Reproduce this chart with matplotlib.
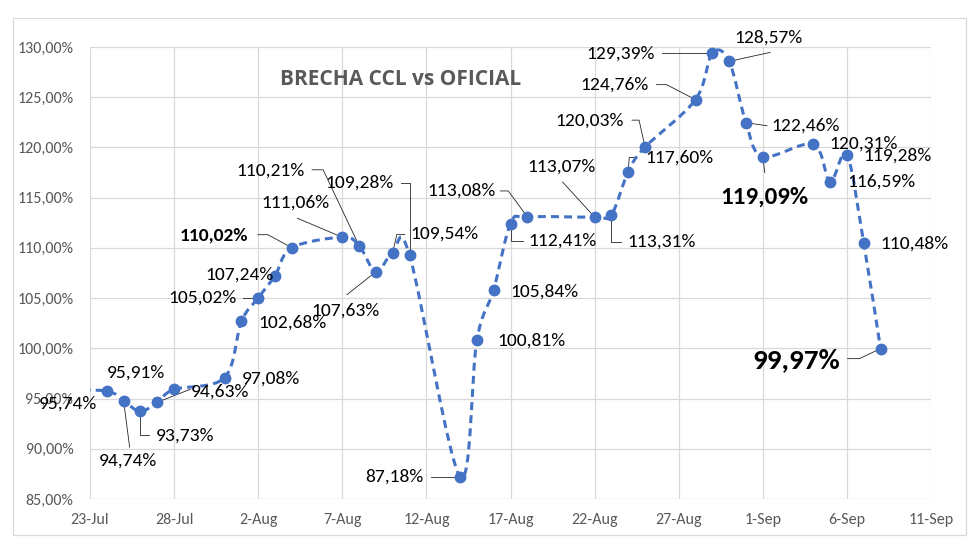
import datetime as dt
import matplotlib
matplotlib.use('Agg')
import matplotlib.pyplot as plt
import matplotlib.dates as mdates
from matplotlib.path import Path
from matplotlib.patches import PathPatch, Rectangle
from matplotlib.transforms import Affine2D

# datos: brecha CCL vs oficial (%)
fecha_previa = '2023-07-21'
brecha_previa = 95.90
fechas = ['2023-07-24', '2023-07-25', '2023-07-26', '2023-07-27', '2023-07-28',
          '2023-07-31', '2023-08-01', '2023-08-02', '2023-08-03', '2023-08-04',
          '2023-08-07', '2023-08-08', '2023-08-09', '2023-08-10', '2023-08-11',
          '2023-08-14', '2023-08-15', '2023-08-16', '2023-08-17', '2023-08-18',
          '2023-08-22', '2023-08-23', '2023-08-24', '2023-08-25',
          '2023-08-28', '2023-08-29', '2023-08-30', '2023-08-31', '2023-09-01',
          '2023-09-04', '2023-09-05', '2023-09-06', '2023-09-07', '2023-09-08']
brecha = [95.74, 94.74, 93.73, 94.63, 95.91,
          97.08, 102.68, 105.02, 107.24, 110.02,
          111.06, 110.21, 107.63, 109.54, 109.28,
          87.18, 100.81, 105.84, 112.41, 113.08,
          113.07, 113.31, 117.60, 120.03,
          124.76, 129.39, 128.57, 122.46, 119.09,
          120.31, 116.59, 119.28, 110.48, 99.97]
titulo = 'BRECHA CCL vs OFICIAL'

# etiquetas: desplazamiento (px, y hacia abajo) y guias
offsets = [(-39, 13), (4, 59), (45, 24), (63, -11), (-38, -17),
           (46, 1), (51, 1), (-56, 0), (-36, -1), (-78, -12),
           (-47, -35), (-89, -75), (-30, 39), (52, -19), (-50, -72),
           (-66, 0), (55, 0), (51, 2), (52, 17), (-66, -26),
           (-33, -50), (50, 27), (51, -14), (-56, -27),
           (-81, -15), (-92, 0), (39, -24), (60, 3), (2, 41),
           (50, -1), (51, 0), (51, 1), (51, 1), (-84, 11)]
guias = {1: [(6, 46), (0, 0)],
         2: [(9, 24), (0, 24), (0, 0)],
         3: [(33, -13), (0, 0)],
         7: [(-15, 0), (0, 0)],
         9: [(-34, -13), (-24, -13), (0, 0)],
         10: [(-45, -19), (0, 0)],
         11: [(-47, -76), (-36, -76), (0, 0)],
         12: [(-29, 23), (0, 0)],
         13: [(12, -18), (4, -18), (0, 0)],
         14: [(-9, -72), (0, -72), (0, 0)],
         15: [(-29, 0), (0, 0)],
         18: [(12, 17), (0, 17), (0, 0)],
         19: [(-27, -26), (-19, -26), (0, 0)],
         20: [(-32, -35), (0, 0)],
         21: [(10, 27), (0, 27), (0, 0)],
         22: [(7, -14), (1, -14), (0, 0)],
         23: [(-13, -27), (-6, -27), (0, 0)],
         24: [(-39, -15), (-29, -15), (0, 0)],
         25: [(-50, 0), (0, 0)],
         26: [(41, -9), (0, 0)],
         27: [(21, 3), (0, 0)],
         28: [(2, 16), (0, 0)],
         33: [(-33, 10), (-21, 10), (0, 0)]}
estilos = {9: ('bold', 14), 28: ('bold', 18), 33: ('bold', 21)}

fuente = ['Carlito', 'Lato', 'DejaVu Sans']
azul = '#4472C4'
gris = '#595959'

def a_fecha(s):
    return mdates.date2num(dt.datetime.strptime(s, '%Y-%m-%d'))

xs = [a_fecha(f) for f in fechas]
xall = [a_fecha(fecha_previa)] + xs
yall = [brecha_previa] + brecha

fig = plt.figure(figsize=(9.8, 5.49), dpi=100)
ax = fig.add_axes([90 / 980, 1 - 499 / 549, (931 - 90) / 980, (499 - 47) / 549])

ax.set_xlim(a_fecha('2023-07-23'), a_fecha('2023-09-11'))
ax.set_ylim(85, 130)
ax.set_xticks([a_fecha('2023-07-23') + 5 * i for i in range(11)])
ax.xaxis.set_major_formatter(mdates.DateFormatter('%-d-%b'))
ax.set_yticks(range(85, 131, 5))
ax.yaxis.set_major_formatter(matplotlib.ticker.FuncFormatter(
    lambda v, p: f'{v:.2f}'.replace('.', ',') + '%'))
ax.tick_params(length=0, labelcolor=gris, labelsize=11.5)
ax.tick_params(axis='y', pad=12)
ax.tick_params(axis='x', pad=10)
for lab in ax.get_xticklabels() + ax.get_yticklabels():
    lab.set_family(fuente)
ax.grid(True, color='#d9d9d9', linewidth=0.9)
ax.set_axisbelow(True)
for s in ax.spines.values():
    s.set_visible(False)

# linea suavizada (bezier tipo Excel)
n = len(xall)
verts = [(xall[0], yall[0])]
codes = [Path.MOVETO]
for i in range(n - 1):
    p0 = (xall[max(i - 1, 0)], yall[max(i - 1, 0)])
    p1 = (xall[i], yall[i])
    p2 = (xall[i + 1], yall[i + 1])
    p3 = (xall[min(i + 2, n - 1)], yall[min(i + 2, n - 1)])
    c1 = (p1[0] + (p2[0] - p0[0]) / 6, p1[1] + (p2[1] - p0[1]) / 6)
    c2 = (p2[0] - (p3[0] - p1[0]) / 6, p2[1] - (p3[1] - p1[1]) / 6)
    verts += [c1, c2, p2]
    codes += [Path.CURVE4] * 3
ax.add_patch(PathPatch(Path(verts, codes), fill=False, edgecolor=azul,
                       linewidth=2.2, linestyle=(0, (2.6, 1.7)), zorder=3))
ax.plot(xs, brecha, linestyle='none', marker='o', markersize=7.5,
        color=azul, zorder=4)

# etiquetas y guias
for i, (x, v) in enumerate(zip(xs, brecha)):
    dx, dy = offsets[i]
    peso, tam = estilos.get(i, ('normal', 14))
    ax.annotate(f'{v:.2f}'.replace('.', ',') + '%', (x, v),
                xytext=(dx, -dy), textcoords='offset pixels',
                ha='center', va='center', fontsize=tam, fontweight=peso,
                family=fuente, color='black', zorder=5, annotation_clip=False)
    if i in guias:
        px, py = ax.transData.transform((x, v))
        gx = [p[0] for p in guias[i]]
        gy = [-p[1] for p in guias[i]]
        ax.plot(gx, gy, color='#262626', linewidth=0.6, zorder=2,
                transform=Affine2D().translate(px, py), clip_on=False)

ax.text(0.369, 0.928, titulo, transform=ax.transAxes, ha='center', va='center',
        fontsize=15, fontweight='bold', color=gris,
        family=['Open Sans', 'DejaVu Sans'])

fig.patches.append(Rectangle((13 / 980, 1 - 535 / 549), (966 - 13) / 980,
                             (535 - 18) / 549, transform=fig.transFigure,
                             fill=False, edgecolor='#d9d9d9', linewidth=0.9))

fig.savefig('out.png', dpi=100)
